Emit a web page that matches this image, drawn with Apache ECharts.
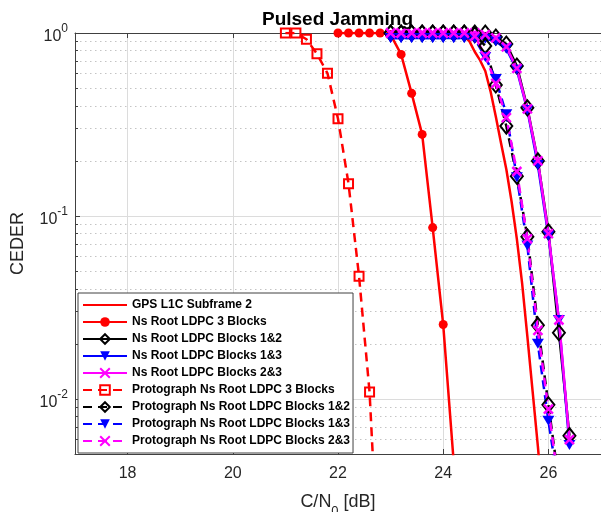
<!DOCTYPE html>
<html>
<head>
<meta charset="utf-8">
<script src="https://cdn.jsdelivr.net/npm/echarts@6/dist/echarts.min.js"></script>
<style>
html, body { margin: 0; padding: 0; background: #fff; }
#chart { width: 601px; height: 512px; }
</style>
</head>
<body>
<div id="chart"></div>
<script>
// C/N0 values [dB]
var snrGps   = [23.0, 24.2, 24.4, 24.5, 24.6, 24.7, 24.8, 24.9, 25.0, 25.1, 25.2, 25.3, 25.4, 25.5, 25.6, 25.7, 25.8, 25.9];
var snrNs3   = [22.0, 22.2, 22.4, 22.6, 22.8, 23.0, 23.2, 23.4, 23.6, 23.8, 24.0, 24.2];
var snrProto3 = [21.0, 21.2, 21.4, 21.6, 21.8, 22.0, 22.2, 22.4, 22.6, 22.8];
var snrBlocks = [23.0, 23.2, 23.4, 23.6, 23.8, 24.0, 24.2, 24.4, 24.6, 24.8, 25.0, 25.2, 25.4, 25.6, 25.8, 26.0, 26.2, 26.4];

// CEDER values
var gpsL1c   = [1, 1, 0.96, 0.9, 0.79, 0.71, 0.62, 0.48, 0.35, 0.25, 0.18, 0.12, 0.075, 0.043, 0.022, 0.011, 0.0055, 0.0026];
var ns3      = [1, 1, 1, 1, 1, 0.98, 0.764, 0.468, 0.279, 0.0864, 0.0255, 0.0045];
var ns12     = [1, 1, 1, 1, 1, 1, 1, 1, 1, 1, 0.95, 0.87, 0.66, 0.39, 0.2, 0.082, 0.023, 0.0063];
var ns13     = [0.94, 0.94, 0.94, 0.94, 0.94, 0.94, 0.94, 0.94, 0.94, 0.93, 0.9, 0.82, 0.63, 0.38, 0.19, 0.078, 0.027, 0.0056];
var ns23     = [1, 1, 1, 1, 1, 1, 1, 1, 1, 0.98, 0.94, 0.84, 0.64, 0.385, 0.2, 0.08, 0.027, 0.006];
var proto3   = [1, 1, 0.924, 0.77, 0.602, 0.34, 0.15, 0.0468, 0.0109, 0.0008];
var proto12  = [1, 1, 1, 1, 1, 1, 1, 1, 0.98, 0.85, 0.52, 0.31, 0.165, 0.077, 0.0253, 0.0093, 0.0035, 0.0012];
var proto13  = [0.94, 0.94, 0.94, 0.94, 0.94, 0.94, 0.94, 0.94, 0.93, 0.74, 0.56, 0.36, 0.163, 0.069, 0.020, 0.0076, 0.0032, 0.001];
var proto23  = [1, 1, 1, 1, 1, 1, 1, 1, 0.96, 0.75, 0.53, 0.345, 0.175, 0.075, 0.0237, 0.0088, 0.0034, 0.0011];

var xTicks = [18, 20, 22, 24, 26];

var FONT = '"Liberation Sans", Arial, Helvetica, sans-serif';
var AXIS_COLOR = '#404040';
var CLEAR = 'rgba(255,255,255,0)';
var XMARK = 'path://M0,0L10,10M10,0L0,10';

function pairs(xs, ys) {
    var out = [];
    for (var i = 0; i < xs.length; i++) {
        out.push([xs[i], ys[i]]);
    }
    return out;
}

function makeSeries(name, xs, ys, color, dashed, marker) {
    var s = {
        name: name,
        type: 'line',
        data: pairs(xs, ys),
        clip: true,
        animation: false,
        lineStyle: { color: color, width: 2.5, type: dashed ? [9, 6] : 'solid' },
        symbol: 'circle',
        symbolSize: 9,
        itemStyle: { color: color },
        emphasis: { disabled: true }
    };
    if (marker === 'none') {
        s.showSymbol = false;
        s.itemStyle = { color: CLEAR, borderWidth: 0 };
    } else if (marker === 'square') {
        s.symbol = 'rect';
        s.symbolSize = 9;
        s.itemStyle = { color: CLEAR, borderColor: color, borderWidth: 2 };
    } else if (marker === 'diamond') {
        s.symbol = 'diamond';
        s.symbolSize = [12, 15];
        s.itemStyle = { color: CLEAR, borderColor: color, borderWidth: 2 };
    } else if (marker === 'triangle') {
        s.symbol = 'triangle';
        s.symbolRotate = 180;
        s.symbolSize = [12, 10];
    } else if (marker === 'x') {
        s.symbol = XMARK;
        s.symbolSize = 9;
        s.itemStyle = { color: CLEAR, borderColor: color, borderWidth: 2.5 };
    }
    return s;
}

var chart = echarts.init(document.getElementById('chart'), null, { renderer: 'canvas' });

var option = {
    animation: false,
    backgroundColor: '#fff',
    title: {
        text: 'Pulsed Jamming',
        left: 262,
        top: 10,
        padding: 0,
        textStyle: { fontFamily: FONT, fontSize: 19, fontWeight: 'bold', color: '#000' }
    },
    grid: {
        left: 75,
        right: 0,
        top: 33,
        bottom: 58,
        outerBoundsMode: 'none',
        containLabel: false
    },
    legend: {
        orient: 'vertical',
        left: 78,
        top: 293,
        itemWidth: 44,
        itemHeight: 12,
        itemGap: 5,
        padding: [6, 3, 6, 4],
        backgroundColor: '#fff',
        borderColor: AXIS_COLOR,
        borderWidth: 1,
        borderRadius: 0,
        selectedMode: false,
        textStyle: { fontFamily: FONT, fontSize: 12, fontWeight: 'bold', color: '#000' }
    },
    xAxis: [
        {
            type: 'value',
            min: 17,
            max: 27,
            name: '{a|C/N}{sub|0}{a| [dB]}',
            nameLocation: 'middle',
            nameGap: 30,
            nameTextStyle: {
                rich: {
                    a: { fontFamily: FONT, fontSize: 18, lineHeight: 18, color: '#262626' },
                    sub: { fontFamily: FONT, fontSize: 13, lineHeight: 13, padding: [18, 0, 0, 0], color: '#262626' }
                }
            },
            axisLine: { show: true, onZero: false, lineStyle: { color: AXIS_COLOR, width: 1 } },
            axisTick: { show: true, inside: true, length: 5, customValues: xTicks, lineStyle: { color: AXIS_COLOR } },
            axisLabel: { show: true, customValues: xTicks, margin: 12, fontFamily: FONT, fontSize: 16, color: '#262626' },
            splitLine: { show: true, lineStyle: { color: '#dcdcdc', width: 1 } }
        },
        {
            type: 'value',
            position: 'top',
            min: 17,
            max: 27,
            axisLine: { show: true, onZero: false, lineStyle: { color: AXIS_COLOR, width: 1 } },
            axisTick: { show: true, inside: true, length: 5, customValues: xTicks, lineStyle: { color: AXIS_COLOR } },
            axisLabel: { show: false },
            splitLine: { show: false }
        }
    ],
    yAxis: {
        type: 'log',
        logBase: 10,
        min: 0.005,
        max: 1,
        name: 'CEDER',
        nameLocation: 'middle',
        nameGap: 48,
        nameTextStyle: { fontFamily: FONT, fontSize: 18, color: '#262626' },
        axisLine: { show: true, onZero: false, lineStyle: { color: AXIS_COLOR, width: 1 } },
        axisTick: { show: true, inside: true, length: 5, lineStyle: { color: AXIS_COLOR } },
        minorTick: { show: true, splitNumber: 9, length: 3, lineStyle: { color: AXIS_COLOR } },
        axisLabel: {
            margin: 7,
            formatter: function (v) {
                var lg = Math.log(v) / Math.LN10;
                var e = Math.round(lg);
                if (Math.abs(lg - e) > 1e-6) {
                    return '';
                }
                return '{b|10}{s|' + e + '}';
            },
            rich: {
                b: { fontFamily: FONT, fontSize: 16, lineHeight: 16, padding: [8, 0, 0, 0], color: '#262626' },
                s: { fontFamily: FONT, fontSize: 12, lineHeight: 12, padding: [0, 0, 8, 0], color: '#262626' }
            }
        },
        splitLine: { show: true, lineStyle: { color: '#dcdcdc', width: 1 } },
        minorSplitLine: { show: true, lineStyle: { color: '#c4c4c4', width: 1, type: [1.5, 3.5] } }
    },
    series: [
        makeSeries('GPS L1C Subframe 2', snrGps, gpsL1c, '#ff0000', false, 'none'),
        makeSeries('Ns Root LDPC 3 Blocks', snrNs3, ns3, '#ff0000', false, 'circle'),
        makeSeries('Ns Root LDPC Blocks 1&2', snrBlocks, ns12, '#000000', false, 'diamond'),
        makeSeries('Ns Root LDPC Blocks 1&3', snrBlocks, ns13, '#0000ff', false, 'triangle'),
        makeSeries('Ns Root LDPC Blocks 2&3', snrBlocks, ns23, '#ff00ff', false, 'x'),
        makeSeries('Protograph Ns Root LDPC 3 Blocks', snrProto3, proto3, '#ff0000', true, 'square'),
        makeSeries('Protograph Ns Root LDPC Blocks 1&2', snrBlocks, proto12, '#000000', true, 'diamond'),
        makeSeries('Protograph Ns Root LDPC Blocks 1&3', snrBlocks, proto13, '#0000ff', true, 'triangle'),
        makeSeries('Protograph Ns Root LDPC Blocks 2&3', snrBlocks, proto23, '#ff00ff', true, 'x')
    ]
};

chart.setOption(option);
</script>
</body>
</html>
